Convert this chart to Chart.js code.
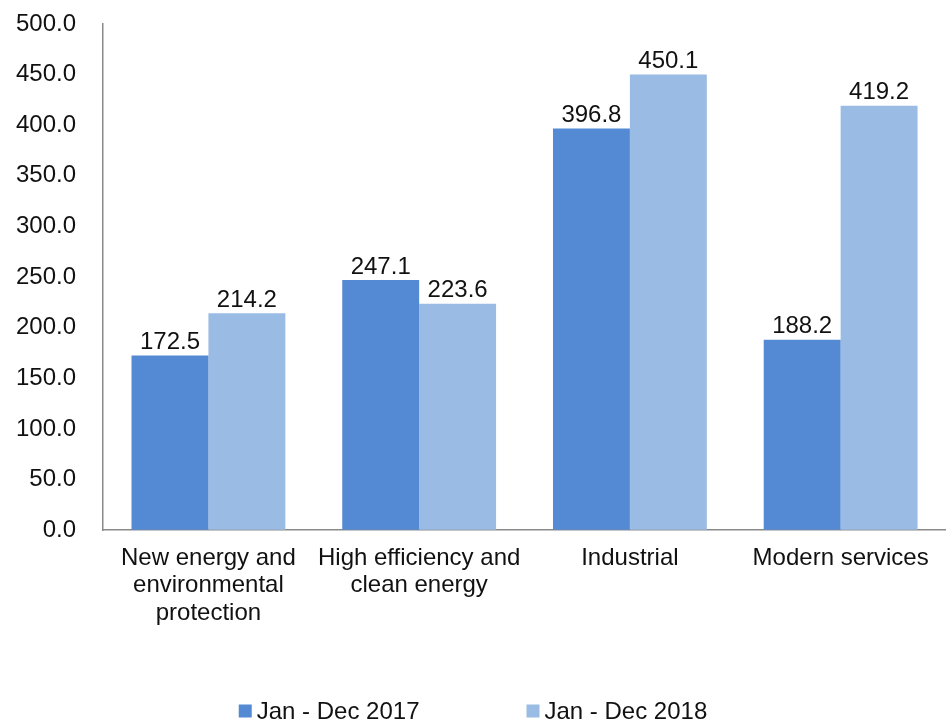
<!DOCTYPE html>
<html>
<head>
<meta charset="utf-8">
<script src="https://cdn.jsdelivr.net/npm/chart.js@4"></script>
<style>
  html, body { margin: 0; padding: 0; background: #ffffff; }
  #chart { display: block; }
</style>
</head>
<body>
<canvas id="chart" width="946" height="721"></canvas>
<script>
// DATA
const categories = [
  ["New energy and", "environmental", "protection"],
  ["High efficiency and", "clean energy"],
  "Industrial",
  "Modern services",
];
const seriesNames = ["Jan - Dec 2017", "Jan - Dec 2018"];
const values2017 = [172.5, 247.1, 396.8, 188.2];
const values2018 = [214.2, 223.6, 450.1, 419.2];
const yTicks = [0, 50, 100, 150, 200, 250, 300, 350, 400, 450, 500];

const colors = ["#548ad3", "#9abbe4"];
const fontFamily = "'Liberation Sans', Arial, sans-serif";
const textColor = "#111111";
const axisColor = "#8a8a8a";

//value labels over each bar
const barLabels = {
  id: "barLabels",
  afterDatasetsDraw(chart) {
    const ctx = chart.ctx;
    ctx.save();
    ctx.font = `24px ${fontFamily}`;
    ctx.fillStyle = textColor;
    ctx.textAlign = "center";
    ctx.textBaseline = "bottom";
    chart.data.datasets.forEach((ds, i) => {
      chart.getDatasetMeta(i).data.forEach((bar, j) => {
        ctx.fillText(ds.data[j].toFixed(1), bar.x, bar.y - 1);
      });
    });
    ctx.restore();
  },
};

//legend drawn at the bottom, centred
const bottomLegend = {
  id: "bottomLegend",
  afterDraw(chart) {
    const ctx = chart.ctx;
    const box = 13;
    const gap = 5;
    const itemGap = 107;
    const y = 711;
    ctx.save();
    ctx.font = `24px ${fontFamily}`;
    ctx.textBaseline = "middle";
    ctx.textAlign = "left";
    const widths = seriesNames.map((n) => box + gap + ctx.measureText(n).width);
    const total = widths.reduce((a, b) => a + b, 0) + itemGap * (widths.length - 1);
    let x = chart.width / 2 - total / 2;
    seriesNames.forEach((name, i) => {
      ctx.fillStyle = colors[i];
      ctx.fillRect(x, y - box / 2, box, box);
      ctx.fillStyle = textColor;
      ctx.fillText(name, x + box + gap, y + 1);
      x += widths[i] + itemGap;
    });
    ctx.restore();
  },
};

const ctx = document.getElementById("chart").getContext("2d");

new Chart(ctx, {
  type: "bar",
  data: {
    labels: categories,
    datasets: seriesNames.map((name, i) => ({
      label: name,
      data: i === 0 ? values2017 : values2018,
      backgroundColor: colors[i],
      borderWidth: 0,
      categoryPercentage: 0.73,
      barPercentage: 1.0,
    })),
  },
  options: {
    responsive: false,
    animation: false,
    layout: {
      padding: { top: 24, left: 13, right: 0, bottom: 80 },
    },
    plugins: {
      legend: { display: false },
      tooltip: { enabled: false },
    },
    scales: {
      x: {
        grid: { display: false, drawTicks: false },
        border: { display: true, color: axisColor, width: 1.5 },
        ticks: {
          color: textColor,
          padding: 14,
          maxRotation: 0,
          autoSkip: false,
          font: { family: fontFamily, size: 24, lineHeight: 1.15 },
        },
      },
      y: {
        min: 0,
        max: 500,
        afterBuildTicks(axis) {
          axis.ticks = yTicks.map((v) => ({ value: v }));
        },
        grid: {
          drawOnChartArea: false,
          drawTicks: true,
          tickLength: 24,
          tickColor: "rgba(0,0,0,0)",
        },
        border: { display: true, color: axisColor, width: 1.5 },
        ticks: {
          color: textColor,
          padding: 3,
          font: { family: fontFamily, size: 24 },
          callback: (v) => Number(v).toFixed(1),
        },
      },
    },
  },
  plugins: [barLabels, bottomLegend],
});
</script>
</body>
</html>
